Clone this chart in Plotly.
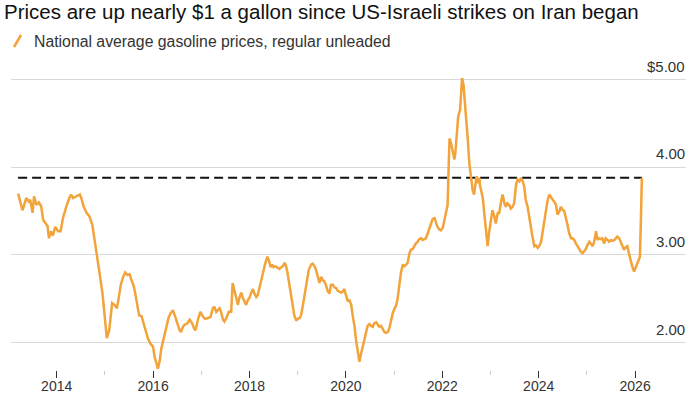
import plotly.graph_objects as go

title_text = "Prices are up nearly $1 a gallon since US-Israeli strikes on Iran began"
series_name = "National average gasoline prices, regular unleaded"

# decimal years and $/gallon
years = [
    2013.20, 2013.29, 2013.37, 2013.42, 2013.45, 2013.50, 2013.53, 2013.58, 2013.63, 2013.68,
    2013.72, 2013.77, 2013.81, 2013.84, 2013.88, 2013.92, 2013.97, 2014.03, 2014.08, 2014.13,
    2014.18, 2014.21, 2014.27, 2014.30, 2014.34, 2014.41, 2014.48, 2014.51, 2014.56, 2014.62,
    2014.68, 2014.74, 2014.79, 2014.84, 2014.89, 2014.95, 2015.00, 2015.04, 2015.09, 2015.12,
    2015.15, 2015.20, 2015.25, 2015.29, 2015.33, 2015.38, 2015.42, 2015.47, 2015.51, 2015.56,
    2015.60, 2015.63, 2015.67, 2015.71, 2015.76, 2015.81, 2015.86, 2015.89, 2015.94, 2016.00,
    2016.03, 2016.07, 2016.10, 2016.14, 2016.17, 2016.23, 2016.27, 2016.32, 2016.36, 2016.41,
    2016.45, 2016.50, 2016.55, 2016.58, 2016.62, 2016.65, 2016.71, 2016.76, 2016.81, 2016.85,
    2016.88, 2016.93, 2016.98, 2017.03, 2017.08, 2017.14, 2017.19, 2017.24, 2017.27, 2017.31,
    2017.38, 2017.41, 2017.45, 2017.48, 2017.52, 2017.57, 2017.62, 2017.65, 2017.69, 2017.72,
    2017.76, 2017.79, 2017.83, 2017.86, 2017.90, 2017.93, 2017.97, 2018.00, 2018.03, 2018.07,
    2018.10, 2018.14, 2018.17, 2018.21, 2018.24, 2018.28, 2018.33, 2018.37, 2018.40, 2018.44,
    2018.47, 2018.50, 2018.54, 2018.59, 2018.62, 2018.66, 2018.69, 2018.73, 2018.76, 2018.79,
    2018.83, 2018.86, 2018.90, 2018.93, 2018.97, 2019.00, 2019.04, 2019.07, 2019.11, 2019.14,
    2019.19, 2019.23, 2019.28, 2019.31, 2019.35, 2019.38, 2019.42, 2019.45, 2019.49, 2019.52,
    2019.55, 2019.59, 2019.62, 2019.66, 2019.69, 2019.73, 2019.76, 2019.80, 2019.83, 2019.87,
    2019.90, 2019.93, 2019.97, 2020.00, 2020.04, 2020.07, 2020.11, 2020.14, 2020.18, 2020.21,
    2020.25, 2020.28, 2020.31, 2020.35, 2020.38, 2020.42, 2020.45, 2020.49, 2020.52, 2020.56,
    2020.59, 2020.63, 2020.66, 2020.69, 2020.73, 2020.76, 2020.80, 2020.83, 2020.87, 2020.90,
    2020.94, 2020.97, 2021.01, 2021.04, 2021.07, 2021.11, 2021.14, 2021.18, 2021.21, 2021.25,
    2021.28, 2021.32, 2021.35, 2021.39, 2021.42, 2021.45, 2021.49, 2021.52, 2021.56, 2021.59,
    2021.63, 2021.66, 2021.70, 2021.73, 2021.77, 2021.80, 2021.84, 2021.87, 2021.90, 2021.94,
    2021.97, 2022.01, 2022.04, 2022.08, 2022.11, 2022.13, 2022.15, 2022.18, 2022.22, 2022.25,
    2022.27, 2022.30, 2022.33, 2022.37, 2022.39, 2022.41, 2022.44, 2022.46, 2022.49, 2022.53,
    2022.56, 2022.59, 2022.63, 2022.66, 2022.68, 2022.71, 2022.73, 2022.77, 2022.78, 2022.80,
    2022.84, 2022.87, 2022.91, 2022.94, 2022.97, 2023.01, 2023.04, 2023.08, 2023.11, 2023.15,
    2023.18, 2023.22, 2023.25, 2023.29, 2023.32, 2023.35, 2023.39, 2023.42, 2023.46, 2023.49,
    2023.53, 2023.56, 2023.60, 2023.63, 2023.67, 2023.70, 2023.73, 2023.77, 2023.80, 2023.84,
    2023.87, 2023.91, 2023.94, 2023.98, 2024.01, 2024.05, 2024.08, 2024.11, 2024.15, 2024.18,
    2024.22, 2024.25, 2024.29, 2024.32, 2024.36, 2024.39, 2024.43, 2024.46, 2024.49, 2024.53,
    2024.56, 2024.60, 2024.63, 2024.67, 2024.70, 2024.74, 2024.77, 2024.81, 2024.84, 2024.87,
    2024.91, 2024.94, 2024.98, 2025.01, 2025.05, 2025.08, 2025.12, 2025.15, 2025.19, 2025.22,
    2025.25, 2025.29, 2025.32, 2025.36, 2025.39, 2025.43, 2025.46, 2025.50, 2025.53, 2025.57,
    2025.60, 2025.63, 2025.67, 2025.70, 2025.74, 2025.77, 2025.81, 2025.84, 2025.88, 2025.91,
    2025.95, 2025.98, 2026.01, 2026.05, 2026.08, 2026.10, 2026.12, 2026.14,
]

prices = [
    3.70, 3.51, 3.65, 3.61, 3.63, 3.48, 3.67, 3.57, 3.60, 3.55,
    3.40, 3.36, 3.33, 3.19, 3.27, 3.22, 3.32, 3.27, 3.27, 3.42,
    3.52, 3.57, 3.66, 3.69, 3.65, 3.67, 3.69, 3.65, 3.55, 3.48,
    3.44, 3.34, 3.17, 2.98, 2.79, 2.56, 2.30, 2.05, 2.14, 2.33,
    2.45, 2.43, 2.39, 2.52, 2.66, 2.75, 2.80, 2.77, 2.78, 2.70,
    2.64, 2.56, 2.41, 2.31, 2.30, 2.20, 2.12, 2.05, 1.99, 1.95,
    1.84, 1.76, 1.70, 1.80, 1.93, 2.07, 2.16, 2.28, 2.33, 2.37,
    2.31, 2.22, 2.14, 2.12, 2.18, 2.20, 2.22, 2.26, 2.22, 2.16,
    2.14, 2.26, 2.35, 2.30, 2.27, 2.28, 2.29, 2.39, 2.41, 2.35,
    2.39, 2.35, 2.26, 2.24, 2.28, 2.35, 2.35, 2.68, 2.60, 2.51,
    2.43, 2.51, 2.57, 2.51, 2.47, 2.43, 2.49, 2.51, 2.56, 2.61,
    2.56, 2.52, 2.54, 2.64, 2.68, 2.81, 2.91, 2.98, 2.94, 2.86,
    2.89, 2.86, 2.87, 2.85, 2.84, 2.86, 2.87, 2.91, 2.87, 2.79,
    2.64, 2.52, 2.41, 2.31, 2.25, 2.27, 2.28, 2.31, 2.43, 2.52,
    2.68, 2.83, 2.89, 2.90, 2.87, 2.83, 2.75, 2.68, 2.75, 2.71,
    2.70, 2.65, 2.59, 2.56, 2.66, 2.66, 2.63, 2.62, 2.59, 2.58,
    2.57, 2.58, 2.61, 2.54, 2.47, 2.49, 2.43, 2.31, 2.18, 2.03,
    1.90, 1.78, 1.86, 1.95, 2.03, 2.14, 2.19, 2.21, 2.19, 2.18,
    2.22, 2.23, 2.20, 2.18, 2.19, 2.16, 2.12, 2.11, 2.12, 2.16,
    2.26, 2.33, 2.39, 2.42, 2.49, 2.66, 2.79, 2.89, 2.87, 2.89,
    2.91, 3.02, 3.06, 3.07, 3.10, 3.13, 3.15, 3.18, 3.19, 3.17,
    3.18, 3.19, 3.25, 3.30, 3.36, 3.41, 3.42, 3.38, 3.32, 3.29,
    3.28, 3.31, 3.38, 3.48, 3.57, 3.97, 4.33, 4.28, 4.16, 4.09,
    4.16, 4.37, 4.58, 4.66, 4.89, 5.02, 4.94, 4.81, 4.58, 4.31,
    4.05, 3.90, 3.74, 3.69, 3.76, 3.90, 3.82, 3.88, 3.80, 3.74,
    3.65, 3.48, 3.29, 3.10, 3.25, 3.38, 3.51, 3.44, 3.36, 3.48,
    3.48, 3.61, 3.69, 3.59, 3.55, 3.59, 3.57, 3.53, 3.55, 3.59,
    3.80, 3.86, 3.84, 3.88, 3.84, 3.78, 3.63, 3.55, 3.44, 3.32,
    3.21, 3.10, 3.11, 3.08, 3.10, 3.15, 3.27, 3.36, 3.51, 3.61,
    3.69, 3.67, 3.63, 3.61, 3.57, 3.46, 3.50, 3.55, 3.52, 3.50,
    3.44, 3.34, 3.25, 3.19, 3.19, 3.17, 3.13, 3.10, 3.07, 3.04,
    3.02, 3.04, 3.07, 3.11, 3.15, 3.13, 3.10, 3.15, 3.27, 3.17,
    3.19, 3.18, 3.19, 3.13, 3.19, 3.17, 3.15, 3.17, 3.16, 3.17,
    3.19, 3.21, 3.19, 3.15, 3.08, 3.06, 3.09, 3.10, 3.00, 2.92,
    2.85, 2.81, 2.85, 2.91, 2.94, 2.98, 3.40, 3.88,
]

y_tick_values = [2, 3, 4, 5]
y_tick_labels = ["2.00", "3.00", "4.00", "$5.00"]
x_tick_values = [2014, 2016, 2018, 2020, 2022, 2024, 2026]
x_tick_labels = ["2014", "2016", "2018", "2020", "2022", "2024", "2026"]
x_minor_values = [2015, 2017, 2019, 2021, 2023, 2025]

W, H = 700, 394
ML, MR, MT, MB = 11, 14, 62, 24
PW, PH = W - ML - MR, H - MT - MB


def px_to_paper(px, py):
    return (px - ML) / PW, (H - MB - py) / PH


current = prices[-1]
line_color = "#F2A33A"

fig = go.Figure()
fig.add_trace(go.Scatter(
    x=[years[0], years[-1]], y=[current, current], mode="lines",
    line=dict(color="#111111", width=2, dash="9px,5px"),
    hoverinfo="skip", showlegend=False,
))
fig.add_trace(go.Scatter(
    x=years, y=prices, mode="lines", name=series_name,
    line=dict(color=line_color, width=2.5), showlegend=False,
))

font_family = "Liberation Sans, Arial, sans-serif"

annotations = []
for v, lab in zip(y_tick_values, y_tick_labels):
    annotations.append(dict(
        x=1, xref="paper", xanchor="right", y=v, yref="y", yanchor="bottom",
        yshift=3, xshift=1, text=lab, showarrow=False,
        font=dict(size=15, color="#333333", family=font_family),
    ))

lx, ly = px_to_paper(32, 41)
annotations.append(dict(
    x=lx, y=ly, xref="paper", yref="paper", xanchor="left", yanchor="middle",
    text=series_name, showarrow=False,
    font=dict(size=15.8, color="#333333", family=font_family),
))

sx0, sy0 = px_to_paper(14, 47)
sx1, sy1 = px_to_paper(21, 35)
shapes = [dict(type="line", xref="paper", yref="paper", x0=sx0, y0=sy0, x1=sx1, y1=sy1,
               line=dict(color=line_color, width=2.5))]

fig.update_layout(
    width=W, height=H,
    margin=dict(l=ML, r=MR, t=MT, b=MB, autoexpand=False),
    plot_bgcolor="white", paper_bgcolor="white",
    font=dict(family=font_family, color="#333333"),
    title=dict(text=title_text, x=4 / W, xanchor="left", xref="container",
               y=1 - 5 / H, yanchor="top", yref="container",
               font=dict(size=20.5, color="#111111", family=font_family)),
    showlegend=False,
    annotations=annotations,
    shapes=shapes,
    xaxis=dict(
        range=[2013.052, 2027.056], tickmode="array", tickvals=x_tick_values,
        ticktext=x_tick_labels, ticks="outside", ticklen=7, tickcolor="#333333",
        tickwidth=1, showgrid=False, zeroline=False, showline=False,
        tickfont=dict(size=14, color="#333333"), ticklabelstandoff=-4,
        minor=dict(tickmode="array", tickvals=x_minor_values, ticks="outside",
                   ticklen=4, tickcolor="#cccccc", tickwidth=1, showgrid=False),
    ),
    yaxis=dict(
        range=[1.686, 5.203], tickmode="array", tickvals=y_tick_values,
        showticklabels=False, showgrid=True, gridcolor="#d9d9d9", gridwidth=1,
        zeroline=False, showline=False, ticks="",
    ),
)

fig.write_html("out.html", config={"displayModeBar": False},
               post_script="document.body.style.margin='0';")
